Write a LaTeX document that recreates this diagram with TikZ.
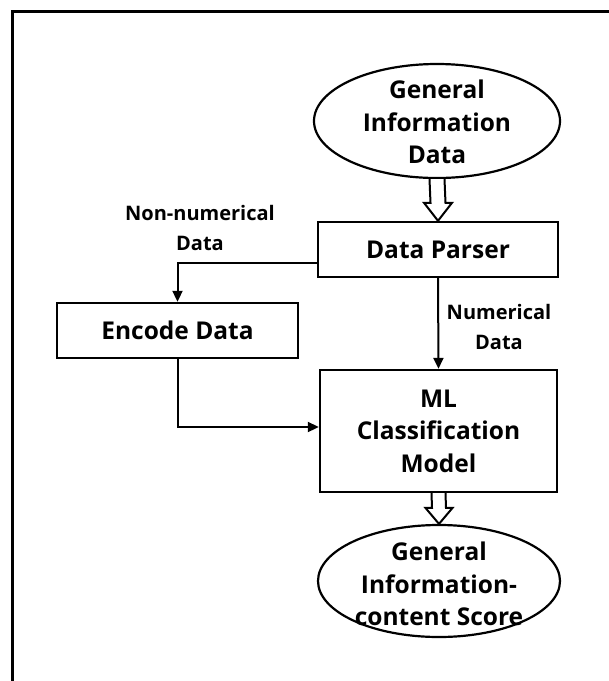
\documentclass[tikz,border=0pt]{standalone}
\usepackage{fontspec}
\setmainfont{Open Sans}
\usetikzlibrary{shapes.geometric,arrows.meta,calc}
\begin{document}
\begin{tikzpicture}[x=1pt,y=-1pt,
  big/.style={font=\fontsize{24.5}{32.5}\selectfont\bfseries, align=center},
  small/.style={font=\fontsize{20}{29.5}\selectfont\bfseries, align=center},
  procbox/.style={draw, line width=2.4pt, inner sep=0pt},
  oval/.style={draw, ellipse, line width=2.2pt, inner sep=0pt},
  link/.style={line width=2pt, -{Triangle[length=11pt,width=10pt]}},
  hollow/.style={draw, fill=white, line width=2pt, line join=miter}]
  \useasboundingbox (0,0) rectangle (609,681);
  % outer frame, running off the right and bottom edges
  \draw[line width=3pt] (620,11.5) -- (12.5,11.5) -- (12.5,700);

  % nodes
  \node[oval, minimum width=246pt, minimum height=114pt] (gid) at (437,121) {};
  \node[big] (gidt) at (437,122) {General\\Information\\Data};
  \node[procbox, minimum width=240pt, minimum height=55pt, big] (parser) at (438,249.5) {Data Parser};
  \node[procbox, minimum width=241pt, minimum height=55pt, big] (encode) at (177.5,330.5) {Encode Data};
  \node[procbox, minimum width=237pt, minimum height=122pt, big] (ml) at (438.5,431) {ML\\Classification\\Model};
  \node[oval, minimum width=242pt, minimum height=112pt] (gis) at (439,581) {};
  \node[big] (gist) at (439,584) {General\\Information-\\content Score};

  % edge labels
  \node[small] (lnon) at (200,228) {Non-numerical\\Data};
  \node[small] (lnum) at (499,327) {Numerical\\Data};

  % connectors
  \draw[link] ([yshift=-13.5pt]parser.west) -| (encode.north);
  \draw[link] (parser.south) -- (ml.north);
  \draw[link] (encode.south) |- ([yshift=4pt]ml.west);

  % hollow block arrows
  \draw[hollow] ($(gid.south)+(-7.5,0)$) -- ($(parser.north)+(-7.5,-18)$)
    -- ($(parser.north)+(-14,-18)$) -- (parser.north)
    -- ($(parser.north)+(14,-18)$) -- ($(parser.north)+(7.5,-18)$)
    -- ($(gid.south)+(7.5,0)$);
  \draw[hollow] ($(ml.south)+(-7,0)$) -- ($(gis.north)+(-7,-16)$)
    -- ($(gis.north)+(-13.5,-16)$) -- (gis.north)
    -- ($(gis.north)+(13.5,-16)$) -- ($(gis.north)+(7,-16)$)
    -- ($(ml.south)+(7,0)$);
\end{tikzpicture}
\end{document}
